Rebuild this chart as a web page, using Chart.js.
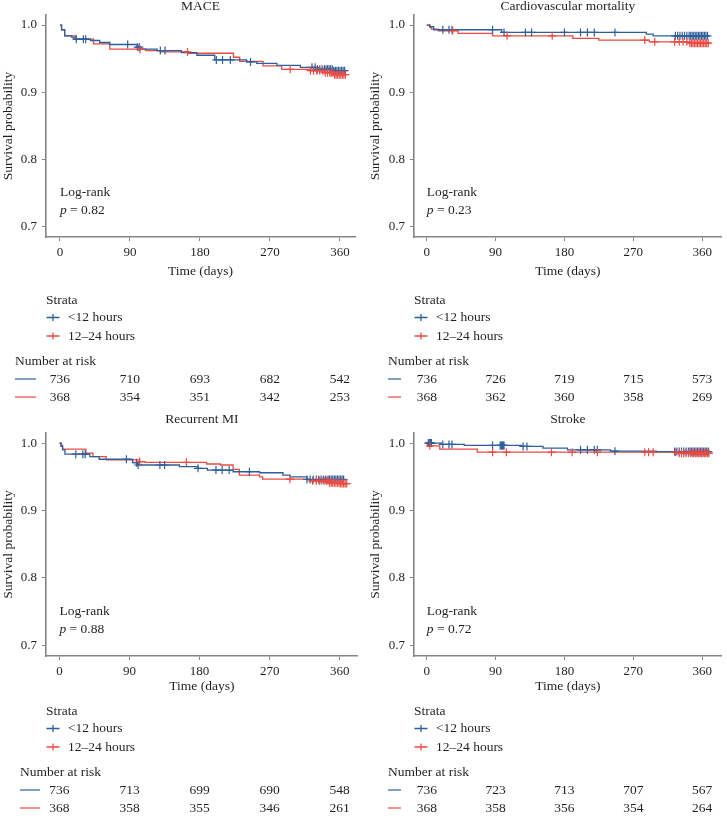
<!DOCTYPE html>
<html>
<head>
<meta charset="utf-8">
<script src="https://cdn.jsdelivr.net/npm/chart.js@4.4.1/dist/chart.umd.min.js"></script>
<style>
  body { margin: 0; background: #fff; }
  #wrap { position: relative; width: 727px; height: 825px; }
  canvas { position: absolute; }
</style>
</head>
<body>
<div id="wrap">
  <canvas id="c0" width="363" height="410" style="left:0;top:0"></canvas>
  <canvas id="c1" width="363" height="410" style="left:364px;top:0"></canvas>
  <canvas id="c2" width="363" height="415" style="left:0;top:410px"></canvas>
  <canvas id="c3" width="363" height="415" style="left:364px;top:410px"></canvas>
</div>
<script>
// Labels
const panelTitles = ['MACE', 'Cardiovascular mortality', 'Recurrent MI', 'Stroke'];
const strata = ['<12 hours', '12\u201324 hours'];
const xTicks = [0, 90, 180, 270, 360];
const yTicks = [0.7, 0.8, 0.9, 1.0];
const pValues = ['0.82', '0.23', '0.88', '0.72'];

// MACE
const maceEarlyTime = [0, 2, 6, 15, 18, 39, 51, 64, 99, 103, 125, 156, 176, 199, 240, 253, 279, 309, 330, 351, 368];
const maceEarlySurv = [1, 0.993, 0.984, 0.982, 0.979, 0.977, 0.974, 0.971, 0.967, 0.964, 0.962, 0.959, 0.955, 0.948, 0.945, 0.943, 0.940, 0.937, 0.934, 0.932, 0.932];
const maceEarlyCens = [21, 30, 33, 87, 100, 102, 129, 135, 201, 209, 219, 245, 324, 328, 331, 334, 337, 340, 342, 344, 346, 348, 350, 352, 354, 356, 358, 360, 362, 364, 366];
const maceLateTime = [0, 2, 6, 20, 43, 64, 110, 129, 165, 223, 231, 261, 285, 321, 340, 352, 369];
const maceLateSurv = [1, 0.993, 0.984, 0.979, 0.972, 0.964, 0.962, 0.960, 0.958, 0.952, 0.946, 0.939, 0.934, 0.932, 0.929, 0.926, 0.926];
const maceLateCens = [103, 164, 296, 322, 326, 330, 334, 338, 341, 344, 347, 349, 351, 353, 355, 357, 359, 361, 363, 365, 367];
const maceRiskEarly = [736, 710, 693, 682, 542];
const maceRiskLate = [368, 354, 351, 342, 253];

// Cardiovascular mortality
const cvdEarlyTime = [0, 4, 9, 98, 287, 296, 369];
const cvdEarlySurv = [1, 0.9975, 0.993, 0.989, 0.9865, 0.984, 0.984];
const cvdEarlyCens = [21, 29, 33, 86, 101, 129, 137, 180, 201, 210, 219, 246, 325, 328, 331, 334, 337, 340, 343, 345, 347, 349, 351, 353, 355, 357, 359, 361, 363, 365, 367];
const cvdLateTime = [0, 4, 6, 15, 41, 86, 191, 225, 291, 343, 370];
const cvdLateSurv = [1, 0.9965, 0.994, 0.9915, 0.9875, 0.984, 0.980, 0.9776, 0.975, 0.973, 0.973];
const cvdLateCens = [34, 105, 164, 285, 298, 324, 330, 335, 340, 344, 346, 348, 350, 352, 354, 356, 358, 360, 362, 364, 366, 368];
const cvdRiskEarly = [736, 726, 719, 715, 573];
const cvdRiskLate = [368, 362, 360, 358, 269];

// Recurrent MI
const miEarlyTime = [0, 2, 4, 7, 39, 51, 94, 100, 154, 178, 190, 223, 257, 287, 296, 318, 368];
const miEarlySurv = [1, 0.995, 0.990, 0.9835, 0.980, 0.976, 0.971, 0.9675, 0.965, 0.9625, 0.960, 0.9575, 0.956, 0.9525, 0.950, 0.946, 0.946];
const miEarlyCens = [21, 30, 33, 86, 99, 101, 129, 135, 178, 201, 209, 218, 244, 318, 322, 326, 330, 333, 336, 339, 342, 345, 347, 349, 351, 353, 355, 357, 359, 361, 363, 365];
const miLateTime = [0, 2, 4, 34, 43, 60, 103, 110, 189, 207, 223, 231, 257, 261, 321, 347, 360, 370];
const miLateSurv = [1, 0.997, 0.991, 0.985, 0.980, 0.975, 0.9725, 0.9715, 0.969, 0.9675, 0.961, 0.9525, 0.950, 0.9465, 0.944, 0.941, 0.940, 0.940];
const miLateCens = [103, 163, 296, 325, 330, 334, 337, 340, 343, 345, 347, 349, 351, 353, 355, 357, 359, 361, 363, 365, 367, 369];
const miRiskEarly = [736, 713, 699, 690, 548];
const miRiskLate = [368, 358, 355, 346, 261];

// Stroke
const strokeEarlyTime = [0, 19, 49, 124, 152, 184, 240, 300, 370];
const strokeEarlySurv = [1, 0.998, 0.9965, 0.995, 0.9925, 0.990, 0.988, 0.9875, 0.9875];
const strokeEarlyCens = [2, 3, 4, 5, 6, 21, 29, 33, 86, 96, 97, 98, 99, 100, 101, 126, 131, 201, 210, 219, 223, 246, 324, 327, 330, 333, 336, 339, 342, 344, 346, 348, 350, 352, 354, 356, 358, 360, 362, 364, 366, 368];
const strokeLateTime = [0, 1, 17, 66, 330, 370];
const strokeLateSurv = [1, 0.996, 0.991, 0.9865, 0.985, 0.985];
const strokeLateCens = [4, 86, 104, 163, 190, 223, 285, 290, 296, 325, 330, 333, 336, 339, 342, 345, 347, 349, 351, 353, 355, 357, 359, 361, 363, 365, 367, 369];
const strokeRiskEarly = [736, 723, 713, 707, 567];
const strokeRiskLate = [368, 358, 356, 354, 264];

const blue = '#2d5f9b';
const red = '#ec4a42';
const textColor = '#231f20';
const axisColor = '#858585';
const family = '"Liberation Serif", "DejaVu Serif", serif';
const serif = (size, style) => `${style || 'normal'} ${size}px ${family}`;

// Panel placement (canvas px)
const layouts = [
    { id: 'c0', h: 410, left: 46, right: 355, top: 15, bottom: 237, xMin: -18, xMax: 379.3, titlePad: { top: 0, bottom: 1.5 }, yTitlePad: 0, riskX: 15, segEnd: 36, legendY: 300 },
    { id: 'c1', h: 410, left: 50, right: 363, top: 15, bottom: 237, xMin: -16.7, xMax: 385.7, titlePad: { top: 0, bottom: 1.5 }, yTitlePad: 3, riskX: 24, segEnd: 37, legendY: 300 },
    { id: 'c2', h: 415, left: 46, right: 358, top: 23, bottom: 246, xMin: -17.3, xMax: 383.2, titlePad: { top: 2.25, bottom: 7.25 }, yTitlePad: 0, riskX: 20, segEnd: 40, legendY: 301 },
    { id: 'c3', h: 415, left: 50, right: 363, top: 23, bottom: 246, xMin: -16.7, xMax: 385.7, titlePad: { top: 2.25, bottom: 7.25 }, yTitlePad: 3, riskX: 24, segEnd: 37, legendY: 301 }
];

const panels = [
    { early: [maceEarlyTime, maceEarlySurv, maceEarlyCens], late: [maceLateTime, maceLateSurv, maceLateCens], risk: [maceRiskEarly, maceRiskLate] },
    { early: [cvdEarlyTime, cvdEarlySurv, cvdEarlyCens], late: [cvdLateTime, cvdLateSurv, cvdLateCens], risk: [cvdRiskEarly, cvdRiskLate] },
    { early: [miEarlyTime, miEarlySurv, miEarlyCens], late: [miLateTime, miLateSurv, miLateCens], risk: [miRiskEarly, miRiskLate] },
    { early: [strokeEarlyTime, strokeEarlySurv, strokeEarlyCens], late: [strokeLateTime, strokeLateSurv, strokeLateCens], risk: [strokeRiskEarly, strokeRiskLate] }
];

// survival value of the step curve at time t
function survAt(times, surv, t) {
    let s = surv[0];
    for (let i = 0; i < times.length; i++) {
        if (times[i] <= t) s = surv[i];
    }
    return s;
}

// Log-rank text, strata legend and number-at-risk table
const kmExtras = {
    id: 'kmExtras',
    afterDraw(chart, args, o) {
        const { ctx, chartArea, scales: { x, y } } = chart;
        ctx.save();
        ctx.fillStyle = textColor;
        ctx.textBaseline = 'middle';
        ctx.textAlign = 'left';

        const lx = x.getPixelForValue(0);
        const ly = y.getPixelForValue(0.75);
        ctx.font = serif(13.5);
        ctx.fillText('Log-rank', lx, ly);
        ctx.font = serif(13.5, 'italic');
        ctx.fillText('p', lx, ly + 18);
        const pw = ctx.measureText('p').width;
        ctx.font = serif(13.5);
        ctx.fillText(' = ' + o.p, lx + pw, ly + 18);

        // Strata
        const sx = chartArea.left;
        ctx.fillText('Strata', sx, o.legendY);
        [blue, red].forEach((col, i) => {
            const cy = o.legendY + 17.5 + i * 18.5;
            ctx.strokeStyle = col;
            ctx.lineWidth = 1.3;
            ctx.beginPath();
            ctx.moveTo(sx + 0.5, cy); ctx.lineTo(sx + 13.5, cy);
            ctx.moveTo(sx + 7, cy - 3.5); ctx.lineTo(sx + 7, cy + 3.5);
            ctx.stroke();
            ctx.fillText(strata[i], sx + 22, cy);
        });

        // Number at risk
        ctx.fillText('Number at risk', o.riskX, o.legendY + 61);
        o.risk.forEach((row, i) => {
            const ry = o.legendY + 79 + i * 18;
            ctx.strokeStyle = i === 0 ? blue : red;
            ctx.lineWidth = 1.2;
            ctx.beginPath();
            ctx.moveTo(o.riskX, ry); ctx.lineTo(o.segEnd, ry);
            ctx.stroke();
            ctx.textAlign = 'center';
            row.forEach((n, j) => ctx.fillText(String(n), x.getPixelForValue(xTicks[j]), ry));
            ctx.textAlign = 'left';
        });
        ctx.restore();
    }
};

panels.forEach((panel, k) => {
    const lay = layouts[k];
    const ctx = document.getElementById(lay.id).getContext('2d');
    const curve = (d) => d[0].map((t, i) => ({ x: t, y: d[1][i] }));
    const marks = (d) => d[2].map(t => ({ x: t, y: survAt(d[0], d[1], t) }));

    new Chart(ctx, {
        type: 'line',
        data: {
            datasets: [
                { label: strata[1] + ' censored', data: marks(panel.late), showLine: false, pointStyle: 'cross', pointRadius: 4, pointBorderWidth: 1.2, borderColor: red, backgroundColor: red, order: 0 },
                { label: strata[0] + ' censored', data: marks(panel.early), showLine: false, pointStyle: 'cross', pointRadius: 4, pointBorderWidth: 1.2, borderColor: blue, backgroundColor: blue, order: 1 },
                { label: strata[0], data: curve(panel.early), stepped: true, borderColor: blue, borderWidth: 1.3, pointRadius: 0, fill: false, order: 2 },
                { label: strata[1], data: curve(panel.late), stepped: true, borderColor: red, borderWidth: 1.3, pointRadius: 0, fill: false, order: 3 }
            ]
        },
        options: {
            responsive: false,
            animation: false,
            devicePixelRatio: 1,
            layout: { padding: { left: 0, right: 363 - lay.right, top: 0, bottom: 0 } },
            plugins: {
                legend: { display: false },
                tooltip: { enabled: false },
                title: {
                    display: true,
                    text: panelTitles[k],
                    fullSize: false,
                    color: textColor,
                    font: { family: family, size: 13.5, weight: 'normal', lineHeight: 1 },
                    padding: lay.titlePad
                },
                kmExtras: { p: pValues[k], risk: panel.risk, riskX: lay.riskX, segEnd: lay.segEnd, legendY: lay.legendY }
            },
            scales: {
                x: {
                    type: 'linear',
                    min: lay.xMin,
                    max: lay.xMax,
                    afterBuildTicks: s => { s.ticks = xTicks.map(v => ({ value: v })); },
                    afterFit: s => { s.height = lay.h - lay.bottom; },
                    border: { color: axisColor, width: 1.6 },
                    grid: { drawOnChartArea: false, drawTicks: true, tickLength: 4, color: axisColor },
                    ticks: { color: textColor, font: { family: family, size: 13 }, padding: 4, maxRotation: 0, callback: v => String(v) },
                    title: { display: true, text: 'Time (days)', color: textColor, font: { family: family, size: 13.5 }, padding: { top: 0, bottom: 130 } }
                },
                y: {
                    min: 0.684,
                    max: 1.015,
                    afterBuildTicks: s => { s.ticks = yTicks.map(v => ({ value: v })); },
                    afterFit: s => { s.width = lay.left; },
                    border: { color: axisColor, width: 1.6 },
                    grid: { drawOnChartArea: false, drawTicks: true, tickLength: 4, color: axisColor },
                    ticks: { color: textColor, font: { family: family, size: 13 }, padding: 5, callback: v => v.toFixed(1) },
                    title: { display: true, text: 'Survival probability', color: textColor, font: { family: family, size: 13.5 }, padding: { top: lay.yTitlePad, bottom: 0 } }
                }
            }
        },
        plugins: [kmExtras]
    });
});
</script>
</body>
</html>
